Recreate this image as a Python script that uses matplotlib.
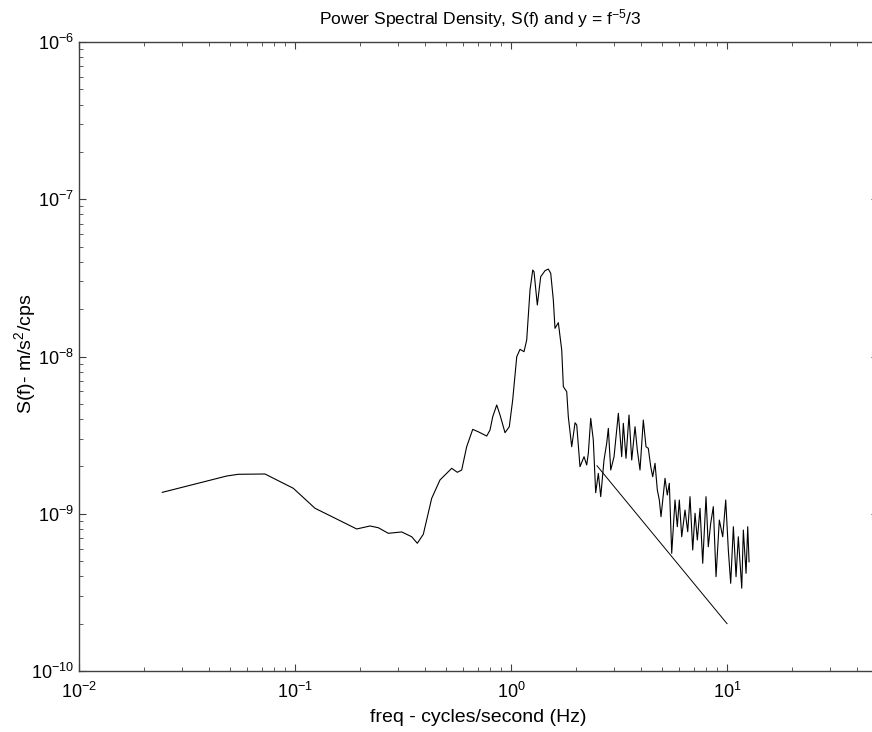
import matplotlib
matplotlib.use("Agg")
import matplotlib.pyplot as plt

plt.rcParams['font.family'] = ['Liberation Sans', 'DejaVu Sans']
plt.rcParams['mathtext.fontset'] = 'custom'
plt.rcParams['mathtext.rm'] = 'Liberation Sans'
plt.rcParams['mathtext.it'] = 'Liberation Sans'

# Power spectral density S(f)
freq = [0.0243, 0.0483, 0.0546, 0.0726, 0.0982, 0.1238, 0.1504, 0.193, 0.2225, 0.243,
        0.2704, 0.3119, 0.347, 0.3683, 0.3926, 0.4294, 0.469, 0.5314, 0.5642, 0.591,
        0.6233, 0.6648, 0.7058, 0.7718, 0.7995, 0.8229, 0.8586, 0.8894, 0.938, 0.9819,
        1.018, 1.063, 1.101, 1.1487, 1.182, 1.2246, 1.2606, 1.278, 1.3237, 1.3724,
        1.4366, 1.488, 1.527, 1.570, 1.598, 1.656, 1.717, 1.747, 1.811, 1.842,
        1.910, 1.979, 2.015, 2.086, 2.178, 2.241, 2.280, 2.339, 2.404, 2.466,
        2.537, 2.602, 2.695, 2.773, 2.822, 2.895, 2.999, 3.140, 3.254, 3.311,
        3.407, 3.518, 3.621, 3.751, 3.843, 3.955, 4.097, 4.217, 4.321, 4.435,
        4.529, 4.642, 4.757, 4.860, 4.948, 5.164, 5.291, 5.406, 5.546, 5.744,
        5.886, 6.014, 6.170, 6.391, 6.578, 6.741, 6.938, 7.111, 7.287, 7.499,
        7.718, 7.994, 8.191, 8.404, 8.641, 8.895, 9.213, 9.552, 9.863, 10.14,
        10.40, 10.70, 11.01, 11.28, 11.70, 11.90, 12.25, 12.47, 12.65]
psd = [1.368e-9, 1.738e-9, 1.782e-9, 1.79e-9, 1.452e-9, 1.083e-9, 9.49e-10, 8.0e-10, 8.36e-10, 8.15e-10,
       7.51e-10, 7.66e-10, 7.14e-10, 6.49e-10, 7.40e-10, 1.254e-9, 1.64e-9, 1.945e-9, 1.835e-9, 1.897e-9,
       2.668e-9, 3.44e-9, 3.32e-9, 3.12e-9, 3.41e-9, 4.14e-9, 4.915e-9, 4.25e-9, 3.277e-9, 3.578e-9,
       5.29e-9, 9.97e-9, 1.111e-8, 1.073e-8, 1.274e-8, 2.648e-8, 3.548e-8, 3.46e-8, 2.126e-8, 3.217e-8,
       3.512e-8, 3.60e-8, 3.381e-8, 2.287e-8, 1.511e-8, 1.641e-8, 1.100e-8, 6.43e-9, 5.97e-9, 4.14e-9,
       2.668e-9, 3.79e-9, 3.667e-9, 1.991e-9, 2.306e-9, 2.042e-9, 2.423e-9, 4.045e-9, 2.944e-9, 1.361e-9,
       1.807e-9, 1.284e-9, 2.197e-9, 2.805e-9, 3.493e-9, 1.897e-9, 2.306e-9, 4.354e-9, 2.306e-9, 3.759e-9,
       2.252e-9, 4.246e-9, 2.197e-9, 3.578e-9, 2.543e-9, 1.897e-9, 3.945e-9, 2.668e-9, 2.607e-9, 1.991e-9,
       1.72e-9, 2.093e-9, 1.416e-9, 1.223e-9, 9.58e-10, 1.68e-9, 1.316e-9, 1.561e-9, 5.60e-10, 1.223e-9,
       8.27e-10, 1.223e-9, 7.14e-10, 1.056e-9, 7.69e-10, 1.284e-9, 5.88e-10, 1.007e-9, 6.81e-10, 1.083e-9,
       4.84e-10, 1.284e-9, 6.17e-10, 8.69e-10, 1.109e-9, 3.98e-10, 9.12e-10, 7.14e-10, 1.223e-9, 5.88e-10,
       3.61e-10, 8.27e-10, 3.98e-10, 7.14e-10, 3.36e-10, 7.88e-10, 4.18e-10, 8.27e-10, 4.95e-10]

# Reference line y = f^(-5/3) (scaled), end points
line_f = [2.5, 10.0]
line_S = [2.02e-9, 2.0e-10]

W, H = 872, 732
fig = plt.figure(figsize=(W / 100, H / 100), dpi=100)
ax = fig.add_axes([79 / W, (H - 671) / H, (878 - 79) / W, (671 - 42) / H])

ax.loglog(freq, psd, color='black', lw=0.8)
ax.loglog(line_f, line_S, color='black', lw=0.7)

ax.set_xlim(0.01, 50)
ax.set_ylim(1e-10, 1e-6)

for s in ax.spines.values():
    s.set_color('#404040')
    s.set_linewidth(1.0)
ax.tick_params(which='both', direction='in', top=True, right=True, colors='#404040',
               labelcolor='black', labelsize=13)
ax.tick_params(which='major', length=5)
ax.tick_params(which='minor', length=3)
ax.tick_params(axis='x', pad=8)

fig.text(478 / W, 1 - 717 / H, 'freq - cycles/second (Hz)', fontsize=14,
         ha='center', va='center')
fig.text(480 / W, 1 - 19 / H, r'Power Spectral Density, S(f) and y = f$^{-5}$/3',
         fontsize=12.6, ha='center', va='center')
fig.text(25 / W, 1 - 354 / H, r'S(f)- m/s$^2$/cps', fontsize=14, rotation=90,
         ha='center', va='center')

fig.savefig('out.png', dpi=100)
